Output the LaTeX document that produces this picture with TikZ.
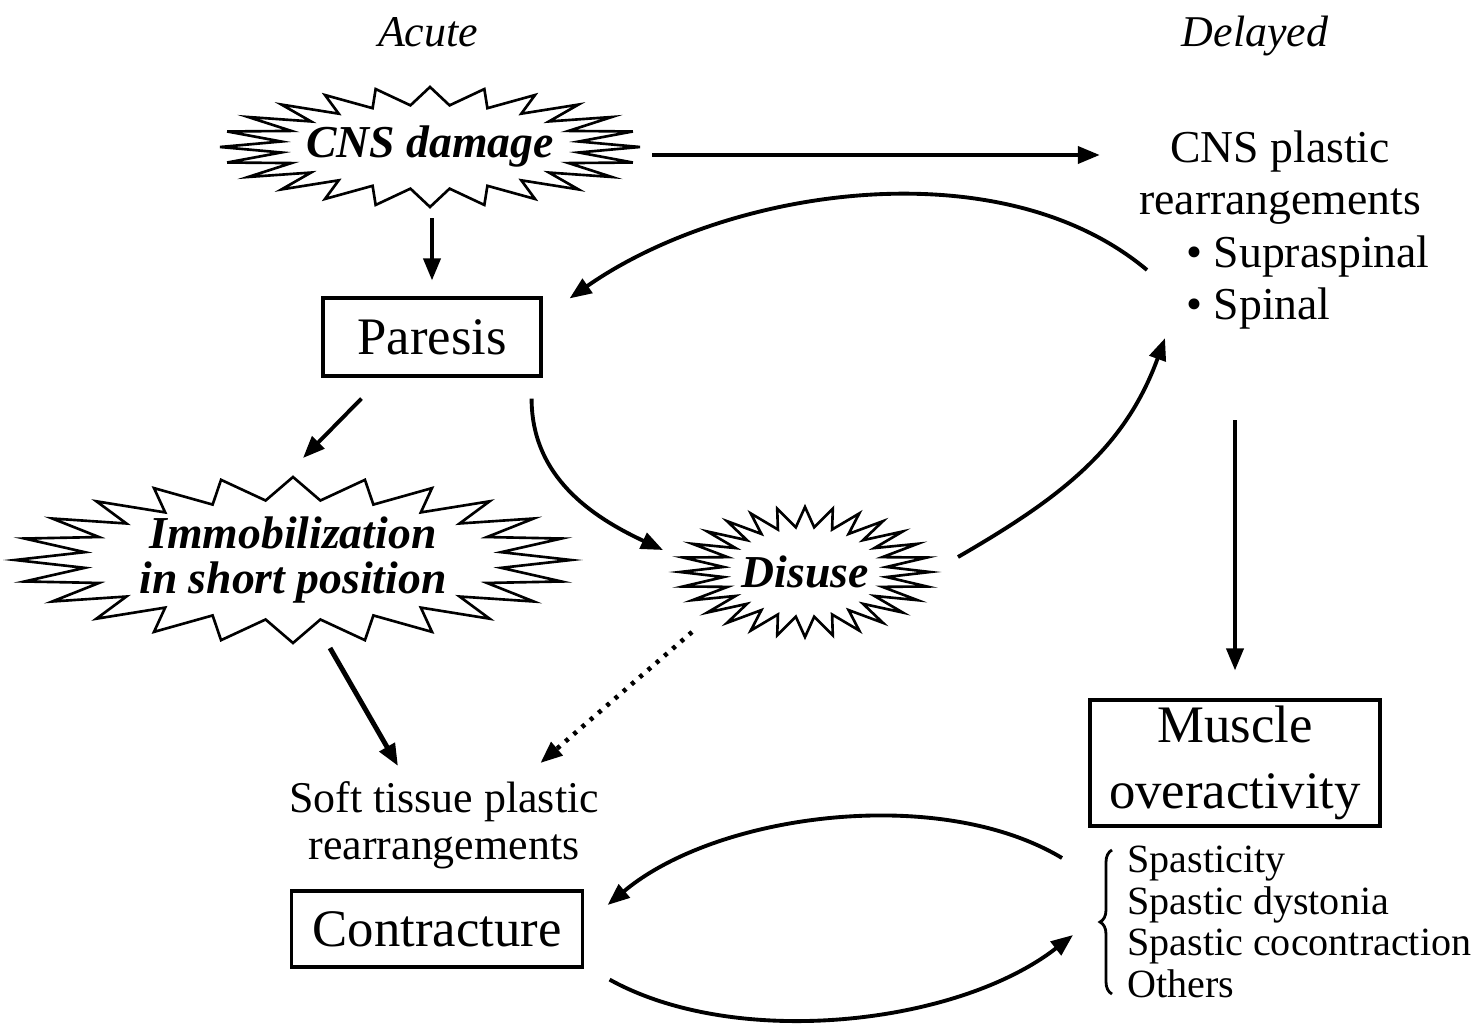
\documentclass[tikz,border=0pt]{standalone}
\usepackage{fontspec}
\setmainfont{Liberation Serif}
\usetikzlibrary{arrows.meta,calc,decorations.pathreplacing}

% spiky outline round a node: name, points, outer radii, inner radii
\newcommand{\spiky}[6]{%
  \draw[burstline] ($(#1)+(0:#3 and #4)$)
    \foreach \k in {1,...,#2} {
      -- ($(#1)+({(\k-0.5)*360/#2}:#5 and #6)$)
      -- ($(#1)+({\k*360/#2}:#3 and #4)$)
    } -- cycle;}

\begin{document}
\begin{tikzpicture}[
  burstline/.style={line width=0.75pt, line join=miter},
  bursttext/.style={align=center, font=\fontsize{13}{12.8}\selectfont\bfseries\itshape},
  box/.style={draw, line width=0.9pt, align=center, inner ysep=1pt,
    font=\fontsize{15}{18.6}\selectfont},
  arr/.style={-{Triangle[length=0.22cm,width=0.17cm]}, line width=1.1pt},
]
\useasboundingbox (0,0) rectangle (14.81,-10.25);

% column titles
\node[font=\fontsize{12.5}{15}\selectfont\itshape, anchor=base] (acute) at (4.28,-0.47) {Acute};
\node[font=\fontsize{12.5}{15}\selectfont\itshape, anchor=base] (delayed) at (12.55,-0.47) {Delayed};

% acute side
\node[bursttext] (cns) at (4.30,-1.47) {CNS damage};
\spiky{cns}{24}{2.1}{0.6}{1.5}{0.42}
\node[box, minimum width=2.18cm, minimum height=0.78cm] (paresis) at (4.32,-3.37) {Paresis};
\node[bursttext] (immob) at (2.93,-5.60) {Immobilization\\in short position};
\spiky{immob}{24}{2.78}{0.83}{2.1}{0.6}
\node[bursttext] (disuse) at (8.05,-5.72) {Disuse};
\spiky{disuse}{28}{1.25}{0.65}{0.82}{0.45}
\node[font=\fontsize{12.5}{13.3}\selectfont, align=center] (soft) at (4.44,-8.25) {Soft tissue plastic\\rearrangements};
\node[box, minimum width=2.91cm, minimum height=0.76cm] (contr) at (4.37,-9.29) {Contracture};

% delayed side
\node[font=\fontsize{13}{14.8}\selectfont, align=center] (plastic) at (12.80,-1.78) {CNS plastic\\rearrangements};
\node[font=\fontsize{13}{14.8}\selectfont, align=left, anchor=west] (levels) at (11.74,-2.83) {\textbullet\ Supraspinal\\\textbullet\ Spinal};
\node[box, minimum width=2.90cm, minimum height=1.26cm] (muscle) at (12.35,-7.63) {Muscle\\overactivity};
\node[font=\fontsize{11.4}{11.8}\selectfont, align=left, anchor=west] (types) at (11.15,-9.22) {Spasticity\\Spastic dystonia\\Spastic cocontraction\\Others};
\draw[decorate, decoration={brace, amplitude=0.12cm}, line width=0.8pt]
  ([shift={(-0.03,-0.72)}]types.west) -- ([shift={(-0.03,0.72)}]types.west);

% connectors
\draw[arr] ([shift={(2.22,-0.08)}]cns.center) -- ([shift={(-0.27,0.23)}]plastic.west);
\draw[arr] ([shift={(0.02,-0.71)}]cns.center) -- ([yshift=0.16cm]paresis.north);
\draw[arr] ([shift={(0.40,-0.21)}]paresis.south west) -- ([shift={(0.10,1.02)}]immob.center);
\draw[arr] ([shift={(-0.11,-0.21)}]paresis.south east) to[out=-90, in=155] ([shift={(-1.42,0.22)}]disuse.center);
\draw[arr] ([shift={(1.53,0.15)}]disuse.center) to[out=30, in=-110] ([shift={(-0.09,0.04)}]levels.south west);
\draw[arr] ([shift={(-0.27,0.13)}]levels.west) to[out=140, in=35, looseness=0.85] ([shift={(0.27,-0.02)}]paresis.north east);
\draw[arr, shorten <=0.78cm, shorten >=0.28cm] (muscle.north |- levels.south) -- (muscle.north);
\draw[arr, line width=1.4pt] ([shift={(0.37,-0.88)}]immob.center) -- ([shift={(-0.46,0.03)}]soft.north);
\draw[arr, dotted, line width=1.3pt] ([shift={(-1.13,-0.60)}]disuse.center) -- ([shift={(-0.71,0.06)}]soft.north east);
\draw[arr] ([shift={(-0.53,0.64)}]types.west) to[out=149, in=40, looseness=0.8] ([shift={(0.235,0.24)}]contr.east);
\draw[arr] ([shift={(0.255,-0.11)}]contr.south east) to[out=-29, in=-142, looseness=0.8] ([shift={(-0.42,-0.13)}]types.west);
\end{tikzpicture}
\end{document}
